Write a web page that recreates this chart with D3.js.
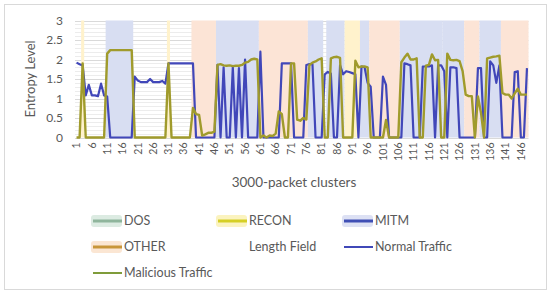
<!DOCTYPE html>
<html>
<head>
<meta charset="utf-8">
<script src="https://cdn.jsdelivr.net/npm/d3@7"></script>
<style>
  body { margin: 0; background: #fff; }
  text { font-family: Lato, "Open Sans", sans-serif; fill: #595959; }
</style>
</head>
<body>
<div id="chart"></div>
<script>
// values, one entry per 3000-packet cluster (1..148)
const clusters = d3.range(1, 149);

const normalTraffic = [
  1.92, 1.88, 1.85, 1.08, 1.35, 1.08, 1.08, 1.06, 1.38, 1.08,
  1.05, 0, 0, 0, 0, 0, 0, 0, 0, 1.56,
  1.46, 1.42, 1.42, 1.42, 1.50, 1.42, 1.42, 1.42, 1.45, 1.38,
  1.90, 1.90, 1.90, 1.90, 1.90, 1.90, 1.90, 1.90, 1.90, 0,
  0, 0, 0, 0, 0, 0, 1.86, 0, 1.80, 0,
  0, 1.80, 0, 1.78, 0, 2.0, 0, 0, 0, 0,
  2.2, 0, 0, 0, 0, 0, 0, 1.90, 1.90, 1.90,
  1.90, 0, 0, 0, 0, 1.86, 1.88, 1.88, 0, 0,
  0, 1.62, 1.68, 1.64, 0, 0, 1.85, 1.62, 1.70, 1.68,
  1.65, 1.62, 0, 1.82, 1.80, 1.40, 1.30, 0, 0, 0,
  1.56, 1.35, 0, 0, 0, 0, 0, 1.90, 1.88, 1.85,
  0, 0, 0, 1.82, 1.82, 1.82, 1.85, 0, 1.85, 1.85,
  1.70, 0, 1.80, 1.80, 1.78, 0, 0, 0, 0, 0,
  0, 1.78, 1.78, 0, 0, 1.95, 1.85, 1.40, 1.85, 0,
  0, 0, 0, 1.68, 1.70, 0, 0, 1.78
];

const maliciousTraffic = [
  0, 0, 1.90, 0, 0, 0, 0, 0, 0, 0,
  2.15, 2.24, 2.24, 2.24, 2.24, 2.24, 2.24, 2.24, 2.24, 0,
  0, 0, 0, 0, 0, 0, 0, 0, 0, 0,
  1.90, 0, 0, 0, 0, 0, 0, 0, 0.76, 0.60,
  0.58, 0.05, 0.08, 0.12, 0.12, 0.15, 1.86, 1.88, 1.85, 1.84,
  1.85, 1.83, 1.84, 1.84, 1.86, 1.92, 1.94, 2.0, 2.02, 2.0,
  0, 0.05, 0, 0.05, 0.04, 0.1, 0.67, 0.6, 0, 0,
  1.90, 1.90, 0.46, 0.43, 0.50, 0.46, 1.86, 1.92, 1.95, 2.0,
  2.03, 0, 0, 2.03, 2.06, 2.07, 2.04, 0, 0, 0,
  0, 1.97, 1.80, 1.82, 1.82, 1.80, 0, 0, 0, 0,
  0, 0.45, 0, 0, 0, 0, 1.93, 2.05, 2.15, 2.0,
  2.0, 2.03, 0, 0, 1.84, 1.86, 2.13, 1.98, 1.99, 0,
  0, 2.15, 1.99, 1.98, 1.99, 1.96, 1.70, 1.10, 1.06, 1.06,
  0, 1.05, 0.63, 0, 2.03, 2.05, 2.07, 2.08, 2.10, 1.14,
  1.10, 1.10, 1.0, 1.13, 1.25, 1.10, 1.10, 1.10
];

// attack periods shown as background columns (first and last cluster of each run)
const bandType  = ["RECON", "MITM", "RECON", "OTHER", "MITM", "OTHER", "MITM", "MITM", "RECON", "MITM", "OTHER", "MITM", "MITM", "OTHER", "MITM", "OTHER"];
const bandStart = [3, 11, 31, 39, 47, 61, 77, 83, 89, 94, 97, 107, 121, 128, 133, 140];
const bandEnd   = [3, 19, 31, 46, 60, 76, 81, 88, 93, 96, 106, 120, 127, 132, 139, 148];
const bandLevel = 3;

const yTicks = [0, 0.5, 1, 1.5, 2, 2.5, 3];
const xTickEvery = 5;

(function () {
  const width = 550;
  const height = 294;

  const bandFill = { DOS: "#e2efda", RECON: "#fff2cc", MITM: "#d8def2", OTHER: "#fce4d6" };
  const normalColor = "#4147b9";
  const maliciousColor = "#a09b2c";

  const svg = d3.select("#chart").append("svg")
    .attr("width", width).attr("height", height);

  // chart border
  svg.append("rect")
    .attr("x", 4.5).attr("y", 4.5)
    .attr("width", 542).attr("height", 285)
    .attr("fill", "#fff").attr("stroke", "#d9d9d9");

  const x = d3.scaleBand()
    .domain(clusters)
    .range([75, 528.5])
    .padding(0);

  const y = d3.scaleLinear()
    .domain([0, 3])
    .range([137.5, 20.5]);

  const cx = (d) => x(d) + x.bandwidth() / 2;

  // fine gridlines
  svg.append("g")
    .selectAll("line")
    .data(d3.range(0, 31).map((k) => k / 10))
    .enter()
    .append("line")
    .attr("x1", x.range()[0]).attr("x2", x.range()[1])
    .attr("y1", (d) => Math.round(y(d)) + 0.5)
    .attr("y2", (d) => Math.round(y(d)) + 0.5)
    .attr("stroke", (d) => (Math.round(d * 10) % 5 === 0 ? "#d9d9d9" : "#ececec"))
    .attr("stroke-width", 1);

  // attack bands
  const bands = bandType.map((t, i) => ({ type: t, start: bandStart[i], end: bandEnd[i] }));
  svg.append("g")
    .selectAll("rect")
    .data(bands)
    .enter()
    .append("rect")
    .attr("x", (d) => x(d.start))
    .attr("width", (d) => x(d.end) + x.bandwidth() - x(d.start))
    .attr("y", y(bandLevel))
    .attr("height", y(0) - y(bandLevel))
    .attr("fill", (d) => bandFill[d.type]);

  // y axis labels
  svg.append("g")
    .attr("transform", "translate(63,0)")
    .call(d3.axisLeft(y).tickValues(yTicks).tickSize(0).tickPadding(0).tickFormat(d3.format("")))
    .call((g) => g.select(".domain").remove())
    .selectAll("text")
    .style("font-family", "Lato, sans-serif")
    .style("font-size", "12px")
    .attr("fill", "#595959");

  // x axis labels (every 5th cluster, rotated)
  svg.append("g")
    .attr("transform", `translate(0,${y(0) + 3})`)
    .call(d3.axisBottom(x).tickValues(clusters.filter((d) => (d - 1) % xTickEvery === 0)).tickSize(0).tickPadding(0))
    .call((g) => g.select(".domain").remove())
    .selectAll("text")
    .attr("transform", "rotate(-90)")
    .attr("dx", "0")
    .attr("dy", "0.35em")
    .attr("x", -2)
    .attr("y", 0)
    .style("text-anchor", "end")
    .style("font-family", "Lato, sans-serif")
    .style("font-size", "10.5px")
    .attr("fill", "#595959");

  // lines
  const line = d3.line()
    .x((d) => cx(d.c))
    .y((d) => y(d.v));

  svg.append("path")
    .datum(clusters.map((c, i) => ({ c, v: normalTraffic[i] })))
    .attr("d", line)
    .attr("fill", "none")
    .attr("stroke", normalColor)
    .attr("stroke-width", 2.2)
    .attr("stroke-linejoin", "round");

  svg.append("path")
    .datum(clusters.map((c, i) => ({ c, v: maliciousTraffic[i] })))
    .attr("d", line)
    .attr("fill", "none")
    .attr("stroke", maliciousColor)
    .attr("stroke-width", 2.4)
    .attr("stroke-linejoin", "round");

  // axis titles
  svg.append("text")
    .attr("transform", "translate(35,79) rotate(-90)")
    .attr("text-anchor", "middle")
    .style("font-size", "13px")
    .text("Entropy Level");

  svg.append("text")
    .attr("x", 294).attr("y", 187)
    .attr("text-anchor", "middle")
    .style("font-size", "13.5px")
    .text("3000-packet clusters");

  // legend
  const legendItems = [
    { name: "DOS", col: 0, row: 0, glow: "#dcebe2", stroke: "#8fb59c", w: 3 },
    { name: "RECON", col: 1, row: 0, glow: "#fbf3bf", stroke: "#d5cf24", w: 3 },
    { name: "MITM", col: 2, row: 0, glow: "#dde1f4", stroke: "#3f4fb5", w: 3 },
    { name: "OTHER", col: 0, row: 1, glow: "#fbe6d3", stroke: "#c8963a", w: 3 },
    { name: "Length Field", col: 1, row: 1, glow: null, stroke: null, w: 0 },
    { name: "Normal Traffic", col: 2, row: 1, glow: null, stroke: "#4048b8", w: 2 },
    { name: "Malicious Traffic", col: 0, row: 2, glow: null, stroke: "#7f9c3a", w: 2 }
  ];
  const colX = [92, 217, 343];
  const rowY = [221, 247, 273];

  const legend = svg.append("g")
    .selectAll("g")
    .data(legendItems)
    .enter()
    .append("g")
    .attr("transform", (d) => `translate(${colX[d.col]},${rowY[d.row]})`);

  legend.filter((d) => d.glow)
    .append("rect")
    .attr("x", -1).attr("y", -6)
    .attr("width", 31).attr("height", 12)
    .attr("rx", 3)
    .attr("fill", (d) => d.glow);

  legend.filter((d) => d.stroke)
    .append("line")
    .attr("x1", 1).attr("x2", 30)
    .attr("y1", 0).attr("y2", 0)
    .attr("stroke", (d) => d.stroke)
    .attr("stroke-width", (d) => d.w);

  legend.append("text")
    .attr("x", 32)
    .attr("y", 0)
    .attr("dy", "0.35em")
    .style("font-size", "12.5px")
    .text((d) => d.name);
})();
</script>
</body>
</html>
